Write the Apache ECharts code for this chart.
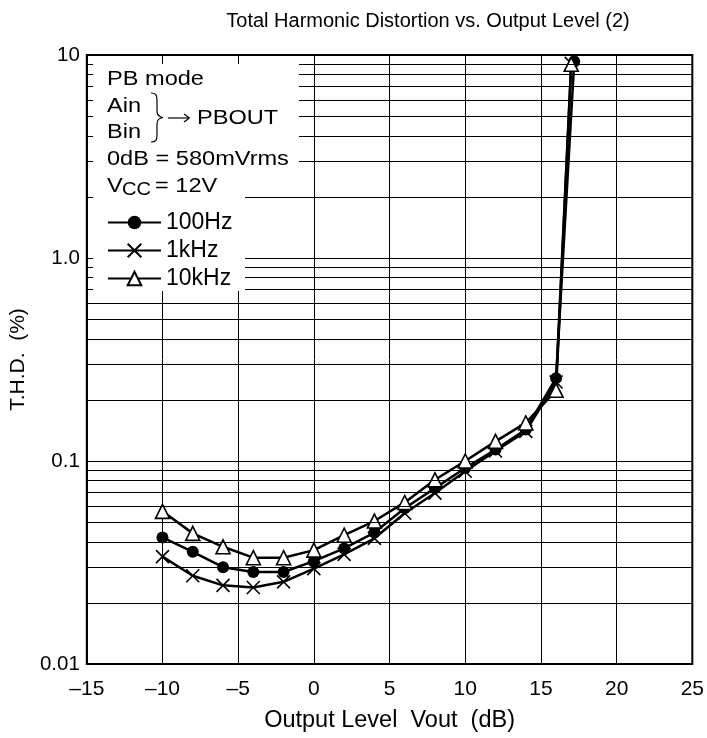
<!DOCTYPE html>
<html>
<head>
<meta charset="utf-8">
<script src="https://cdn.jsdelivr.net/npm/echarts@6/dist/echarts.min.js"></script>
<style>html,body{margin:0;padding:0;background:#fff;}#c{width:707px;height:738px;}</style>
</head>
<body>
<div id="c"></div>
<script>
// ---- data ----
const x100 = [-10, -8, -6, -4, -2, 0, 2, 4, 6, 8, 10, 12, 14, 16, 17.2];
const thd100 = [0.042, 0.0357, 0.030, 0.0284, 0.0284, 0.0321, 0.0371, 0.0444, 0.0585, 0.0735, 0.0923, 0.114, 0.143, 0.256, 9.3];
const x1k = [-10, -8, -6, -4, -2, 0, 2, 4, 6, 8, 10, 12, 14, 16, 17.0];
const thd1k = [0.0338, 0.0272, 0.0244, 0.0238, 0.0254, 0.0295, 0.0347, 0.0416, 0.0553, 0.0695, 0.089, 0.112, 0.140, 0.245, 9.1];
const x10k = [-10, -8, -6, -4, -2, 0, 2, 4, 6, 8, 10, 12, 14, 16, 17.0];
const thd10k = [0.0565, 0.044, 0.0378, 0.0334, 0.0334, 0.0364, 0.0431, 0.0506, 0.0625, 0.0808, 0.100, 0.125, 0.154, 0.223, 9.0];
const seriesNames = ['100Hz', '1kHz', '10kHz'];
const yTickValues = [0.01, 0.1, 1, 10];
const yTickLabels = ['0.01', '0.1', '1.0', '10'];
const minorGridValues = [0.02,0.03,0.04,0.05,0.06,0.07,0.08,0.09,0.2,0.3,0.4,0.5,0.6,0.7,0.8,0.9,2,3,4,5,6,7,8,9];
const titleText = 'Total Harmonic Distortion vs. Output Level (2)';
const xName = 'Output Level  Vout  (dB)';
const yName = 'T.H.D.  (%)';

const FONT = '"Liberation Sans", Arial, sans-serif';
const zip = (xs, ys) => xs.map((x, i) => [x, ys[i]]);

const chart = echarts.init(document.getElementById('c'), null, {renderer: 'canvas'});
const lineCommon = {
  type: 'line',
  lineStyle: {color: '#000', width: 2.5},
  color: '#000',
  animation: false,
  z: 3
};
const braceStyle = {fill: null, stroke: '#000', lineWidth: 1.2};
const bz = (x1, y1, cx1, cy1, cx2, cy2, x2, y2) => ({type: 'bezierCurve', z: 51, silent: true,
  shape: {x1: x1, y1: y1, cpx1: cx1, cpy1: cy1, cpx2: cx2, cpy2: cy2, x2: x2, y2: y2}, style: braceStyle});
const ln = (x1, y1, x2, y2) => ({type: 'line', z: 51, silent: true, shape: {x1: x1, y1: y1, x2: x2, y2: y2}, style: braceStyle});
const txt = (t, x, y, size, sx) => ({type: 'text', z: 51, silent: true, x: x, y: y, scaleX: sx || 1.15,
  style: {text: t, x: 0, y: 0, fontSize: size || 20.5, fontFamily: FONT, fill: '#000', align: 'left', verticalAlign: 'middle'}});

chart.setOption({
  animation: false,
  backgroundColor: '#fff',
  title: {
    text: titleText,
    left: 423,
    textAlign: 'center',
    top: 6,
    textStyle: {fontSize: 20, fontWeight: 'normal', fontFamily: FONT, color: '#000'}
  },
  grid: {left: 84, top: 55, width: 609, height: 610, show: true, borderColor: '#000', borderWidth: 2, backgroundColor: 'transparent', containLabel: false},
  xAxis: {
    type: 'value', min: -15, max: 25, interval: 5,
    name: xName, nameLocation: 'middle', nameGap: 45,
    nameTextStyle: {fontSize: 23.5, fontFamily: FONT, color: '#000'},
    axisLine: {show: false}, axisTick: {show: false},
    axisLabel: {fontSize: 21, fontFamily: FONT, color: '#000', margin: 15,
      formatter: v => (v < 0 ? '\u2013' + Math.abs(v) : String(v))},
    splitLine: {show: true, lineStyle: {color: '#000', width: 1}}
  },
  yAxis: {
    type: 'log', logBase: 10, min: 0.01, max: 10, splitNumber: 3,
    name: yName, nameLocation: 'middle', nameGap: 46,
    nameTextStyle: {fontSize: 21, fontFamily: FONT, color: '#000'},
    axisLine: {show: false}, axisTick: {show: false},
    axisLabel: {fontSize: 20.5, fontFamily: FONT, color: '#000', margin: 7,
      formatter: v => {
        const i = yTickValues.findIndex(t => Math.abs(Math.log10(t) - Math.log10(v)) < 1e-6);
        return i >= 0 ? yTickLabels[i] : '';
      }},
    splitLine: {show: true, lineStyle: {color: '#000', width: 1}}
  },
  legend: {
    orient: 'vertical', left: 102, top: 206, itemGap: 5, itemWidth: 53, itemHeight: 17,
    z: 60, data: seriesNames,
    textStyle: {fontSize: 23, fontFamily: FONT, color: '#000', lineHeight: 23},
    selectedMode: false
  },
  series: [
    Object.assign({}, lineCommon, {
      name: seriesNames[0], data: zip(x100, thd100), symbol: 'circle', symbolSize: 12,
      itemStyle: {color: '#000', borderColor: '#000', borderWidth: 0},
      markLine: {
        silent: true, symbol: ['none', 'none'], animation: false, label: {show: false},
        lineStyle: {color: '#000', width: 1, type: 'solid'},
        data: minorGridValues.map(v => ({yAxis: v}))
      }
    }),
    Object.assign({}, lineCommon, {
      name: seriesNames[1], data: zip(x1k, thd1k), symbol: 'path://M0,0L10,10M10,0L0,10', symbolSize: 13,
      itemStyle: {color: '#000', borderColor: '#000', borderWidth: 1.6}
    }),
    Object.assign({}, lineCommon, {
      name: seriesNames[2], data: zip(x10k, thd10k), symbol: 'triangle', symbolSize: 14,
      itemStyle: {color: '#fff', borderColor: '#000', borderWidth: 1.6}
    })
  ],
  graphic: [
    {type: 'polygon', z: 50, silent: true,
      shape: {points: [[93, 64], [299, 64], [299, 175], [245, 175], [245, 291], [93, 291]]},
      style: {fill: '#fff', stroke: null}},
    txt('PB mode', 107, 79),
    txt('Ain', 107, 106),
    txt('Bin', 107, 132),
    bz(151, 93, 156, 93, 157, 95, 157, 100),
    ln(157, 100, 157, 111),
    bz(157, 111, 157, 115, 159, 117, 163, 117.5),
    bz(163, 117.5, 159, 118, 157, 120, 157, 124),
    ln(157, 124, 157, 135),
    bz(157, 135, 157, 140, 156, 142, 151, 142),
    ln(168, 118, 189, 118),
    ln(184, 114, 189.5, 118),
    ln(184, 122, 189.5, 118),
    txt('PBOUT', 197, 118),
    txt('0dB = 580mVrms', 107, 159),
    txt('V', 107, 186),
    txt('CC', 122, 190, 17.5),
    txt('= 12V', 155, 186)
  ]
});
</script>
</body>
</html>
